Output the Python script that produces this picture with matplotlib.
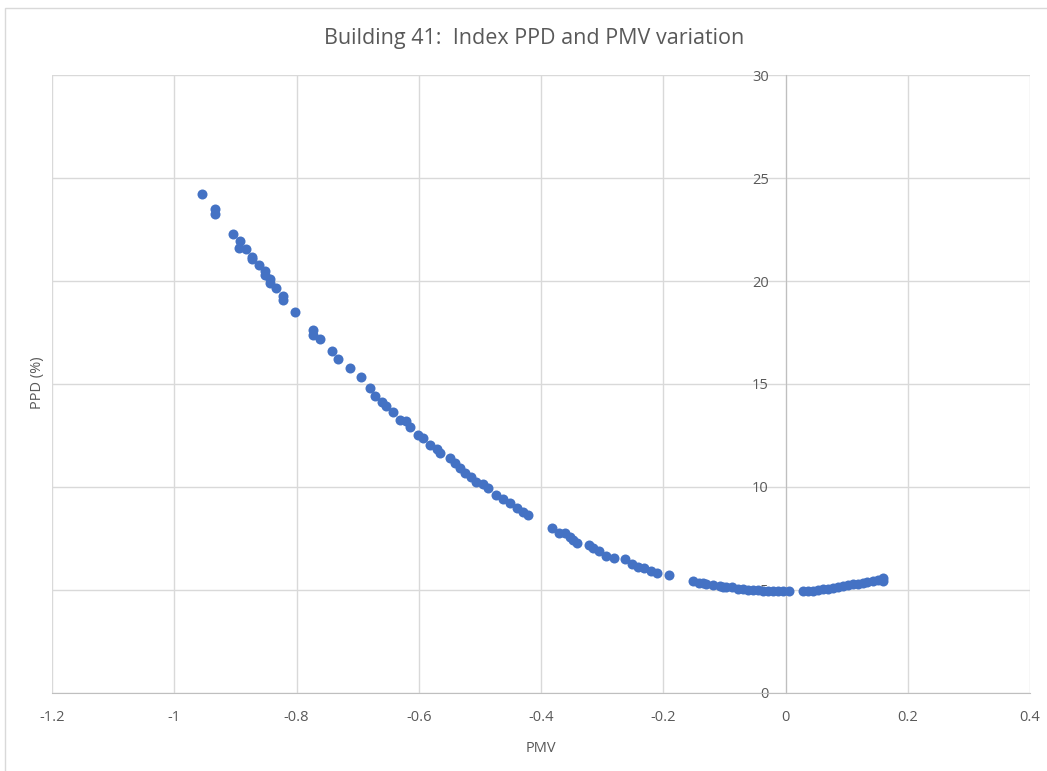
import matplotlib.pyplot as plt
from matplotlib.patches import Rectangle

# PMV / PPD
pmv = [-0.954, -0.933, -0.933, -0.904, -0.892, -0.894, -0.883, -0.873, -0.873, -0.862,
       -0.852, -0.852, -0.843, -0.844, -0.833, -0.822, -0.822, -0.802, -0.773, -0.773,
       -0.762, -0.742, -0.732, -0.713, -0.695, -0.680, -0.672, -0.661, -0.653, -0.643,
       -0.630, -0.621, -0.615, -0.601, -0.593, -0.582, -0.571, -0.566, -0.549, -0.541,
       -0.533, -0.525, -0.514, -0.506, -0.495, -0.487, -0.473, -0.462, -0.451, -0.440,
       -0.430, -0.421, -0.382, -0.370, -0.361, -0.353, -0.348, -0.341, -0.322, -0.315,
       -0.305, -0.293, -0.281, -0.262, -0.252, -0.242, -0.231, -0.220, -0.211, -0.191,
       -0.152, -0.141, -0.135, -0.130, -0.119, -0.108, -0.103, -0.097, -0.087, -0.078,
       -0.070, -0.062, -0.053, -0.045, -0.037, -0.029, -0.021, -0.012, -0.004, 0.006,
       0.028, 0.036, 0.045, 0.053, 0.061, 0.069, 0.077, 0.086, 0.094, 0.102,
       0.110, 0.118, 0.126, 0.134, 0.143, 0.151, 0.159, 0.160]
ppd = [24.2, 23.5, 23.25, 22.27, 21.96, 21.6, 21.57, 21.15, 21.05, 20.76,
       20.5, 20.27, 20.08, 19.89, 19.64, 19.27, 19.1, 18.5, 17.6, 17.4,
       17.17, 16.6, 16.2, 15.76, 15.35, 14.79, 14.42, 14.14, 13.93, 13.66,
       13.25, 13.2, 12.93, 12.52, 12.36, 12.04, 11.83, 11.66, 11.39, 11.15,
       10.9, 10.7, 10.5, 10.26, 10.15, 9.94, 9.61, 9.4, 9.2, 8.96,
       8.8, 8.64, 7.99, 7.75, 7.78, 7.56, 7.43, 7.26, 7.18, 7.02,
       6.91, 6.65, 6.54, 6.49, 6.26, 6.13, 6.05, 5.94, 5.84, 5.73,
       5.45, 5.35, 5.33, 5.29, 5.23, 5.19, 5.16, 5.16, 5.13, 5.06,
       5.03, 5.01, 5.0, 4.98, 4.97, 4.96, 4.95, 4.95, 4.95, 4.95,
       4.95, 4.96, 4.97, 5.0, 5.03, 5.07, 5.11, 5.15, 5.19, 5.23,
       5.27, 5.31, 5.35, 5.39, 5.44, 5.5, 5.57, 5.45]

x_ticks = [-1.2, -1, -0.8, -0.6, -0.4, -0.2, 0, 0.2, 0.4]
x_labels = ['-1.2', '-1', '-0.8', '-0.6', '-0.4', '-0.2', '0', '0.2', '0.4']
y_ticks = [0, 5, 10, 15, 20, 25, 30]

plt.rcParams['font.family'] = ['Open Sans', 'DejaVu Sans']

fig = plt.figure(figsize=(10.47, 7.71), dpi=100)
ax = fig.add_axes([0.0497, 0.1012, 0.9341, 0.8015])

grid_col = '#d9d9d9'
text_col = '#595959'

ax.scatter(pmv, ppd, s=52, color='#4472c4', zorder=3, linewidths=0)

ax.set_xlim(-1.2, 0.4)
ax.set_ylim(0, 30)
ax.set_xticks(x_ticks)
ax.set_xticklabels(x_labels)
ax.set_yticks(y_ticks)

ax.grid(True, color=grid_col, linewidth=1)
ax.set_axisbelow(True)

for side in ['top', 'right']:
    ax.spines[side].set_visible(False)
ax.spines['left'].set_position(('data', 0))
ax.spines['left'].set_color('#bfbfbf')
ax.spines['bottom'].set_color('#bfbfbf')

ax.tick_params(length=0, labelsize=10.5, colors=text_col)
ax.tick_params(axis='x', pad=12)
ax.tick_params(axis='y', pad=12)

ax.set_xlabel('PMV', fontsize=10.5, color=text_col, labelpad=12)
fig.text(0.036, 0.503, 'PPD (%)', rotation=90, fontsize=10.5, color=text_col,
         ha='center', va='center')
fig.text(0.51, 0.950, 'Building 41:  Index PPD and PMV variation', fontsize=15.5,
         color=text_col, ha='center', va='center')

# light chart border
fig.patches.append(Rectangle((0.005, -0.01), 1.2, 0.999, transform=fig.transFigure,
                             fill=False, edgecolor='#d9d9d9', linewidth=1))

fig.savefig('out.png', dpi=100)
